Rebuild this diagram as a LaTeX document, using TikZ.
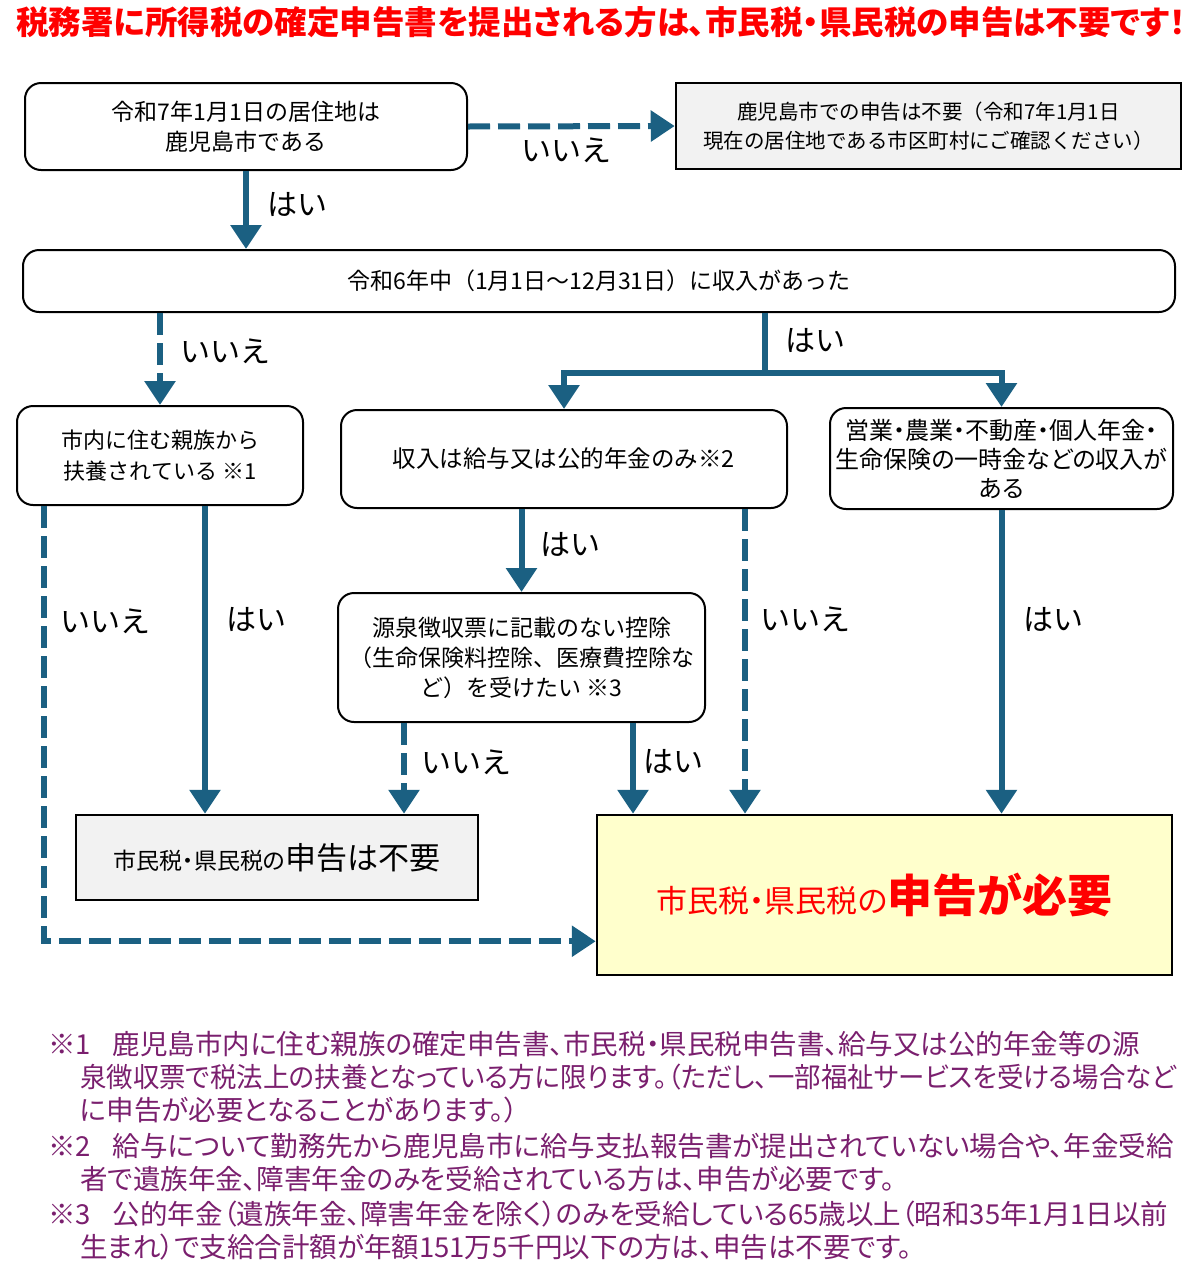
\documentclass[tikz,border=0pt]{standalone}
\usepackage{fontspec}
\setmainfont{Noto Sans CJK JP}
\newfontfamily\propfont{Noto Sans CJK JP}[RawFeature=+palt]
\usetikzlibrary{arrows.meta,calc}

\definecolor{flowblue}{RGB}{27,96,130}
\definecolor{notepurple}{RGB}{122,31,110}
\definecolor{boxgray}{RGB}{242,242,242}
\definecolor{needyellow}{RGB}{255,255,204}
\definecolor{alertred}{RGB}{255,0,0}

\tikzset{
	question/.style={draw=black, line width=2pt, rounded corners=16pt, align=center,
		inner sep=0pt, font=\fontsize{23}{30}\selectfont},
	result/.style={draw=black, line width=2.5pt, align=center, inner sep=0pt},
	yesarrow/.style={draw=flowblue, line width=6pt, -{Triangle[width=30pt,length=24pt]}},
	noarrow/.style={yesarrow, dash pattern=on 22pt off 8pt},
	answer/.style={font=\fontsize{30}{30}\selectfont},
	notetext/.style={text=notepurple, align=left, inner sep=0pt, anchor=west,
		font=\propfont\fontsize{27.5}{33}\selectfont},
}

\begin{document}
\begin{tikzpicture}
			[x=1pt,y=-1pt]
			\useasboundingbox (0,0) rectangle (1201,1275);
			% title
			\node[text=alertred, font=\propfont\bfseries\fontsize{32.5}{33}\selectfont] (title) at (601,22)
				{税務署に所得税の確定申告書を提出される方は、市民税・県民税の申告は不要です！};
			% questions
			\node[question, minimum width=442pt, minimum height=87pt] (home) at (246,126.5)
				{令和7年1月1日の居住地は\\鹿児島市である};
			\node[result, fill=boxgray, minimum width=505pt, minimum height=86pt,
				font=\fontsize{20.5}{29}\selectfont] (elsewhere) at (928.5,126)
				{鹿児島市での申告は不要（令和7年1月1日\\現在の居住地である市区町村にご確認ください）};
			\node[question, minimum width=1152pt, minimum height=62pt] (income) at (599,281)
				{令和6年中（1月1日～12月31日）に収入があった};
			\node[question, minimum width=286pt, minimum height=99pt,
				font=\fontsize{22}{31}\selectfont] (family) at (160,455.5)
				{市内に住む親族から\\扶養されている ※1};
			\node[question, minimum width=446pt, minimum height=98pt,
				font=\fontsize{23.5}{30}\selectfont] (salary) at (564,459)
				{収入は給与又は公的年金のみ※2};
			\node[question, minimum width=343pt, minimum height=101pt,
				font=\propfont\fontsize{24}{29}\selectfont] (business) at (1001.5,458.5)
				{営業・農業・不動産・個人年金・\\生命保険の一時金などの収入が\\ある};
			\node[question, minimum width=367pt, minimum height=129pt] (deduction) at (521.5,657.5)
				{源泉徴収票に記載のない控除\\（生命保険料控除、医療費控除な\\ど）を受けたい ※3};
			% results
			\node[result, fill=boxgray, minimum width=402pt, minimum height=85pt, font=\propfont]
				(notneeded) at (277,857.5)
				{\fontsize{23}{23}\selectfont 市民税・県民税の\fontsize{31}{31}\selectfont 申告は不要};
			\node[result, fill=needyellow, minimum width=575pt, minimum height=160pt,
				text=alertred, font=\propfont] (needed) at (884.5,895)
				{\fontsize{31}{31}\selectfont 市民税・県民税の\fontsize{45}{45}\selectfont\bfseries 申告が必要};
			% connectors
			\draw[noarrow] (home.east) -- (elsewhere.west);
			\draw[yesarrow] (home.south) -- (home.south |- income.north);
			\draw[noarrow] (family.north |- income.south) -- (family.north);
			\coordinate (fork) at (765,373);
			\draw[flowblue, line width=6pt] (fork |- income.south) -- (fork);
			\draw[yesarrow, {Triangle[width=30pt,length=24pt]}-{Triangle[width=30pt,length=24pt]}]
				(salary.north) |- (fork) -| (business.north);
			\coordinate (famno) at ($(family.south west)+(28,0)$);
			\coordinate (famyes) at ($(family.south)+(45,0)$);
			\coordinate (needin) at ($(needed.south west)+(0,-35)$);
			\draw[noarrow] (famno) |- (needin);
			\draw[yesarrow] (famyes) -- (famyes |- notneeded.north);
			\draw[yesarrow] (deduction.north |- salary.south) -- (deduction.north);
			\coordinate (salno) at ($(salary.south east)+(-43,0)$);
			\draw[noarrow] (salno) -- (salno |- needed.north);
			\coordinate (dedno) at ($(deduction.south west)+(67,0)$);
			\draw[noarrow] (dedno) -- (dedno |- notneeded.north);
			\coordinate (dedyes) at ($(deduction.south east)+(-73,0)$);
			\draw[yesarrow] (dedyes) -- (dedyes |- needed.north);
			\draw[yesarrow] (business.south) -- (business.south |- needed.north);
			% answers
			\node[answer] (homeno) at (566,150) {いいえ};
			\node[answer] (homeyes) at (297,204) {はい};
			\node[answer] (incomeno) at (225,351) {いいえ};
			\node[answer] (incomeyes) at (815,340) {はい};
			\node[answer] (familyno) at (105,621) {いいえ};
			\node[answer] (familyyes) at (256,619) {はい};
			\node[answer] (salaryyes) at (570,544) {はい};
			\node[answer] (salaryno) at (805,619) {いいえ};
			\node[answer] (deductionno) at (466,762) {いいえ};
			\node[answer] (deductionyes) at (673,761) {はい};
			\node[answer] (businessyes) at (1053,619) {はい};
			% notes
			\node[notetext] (note1) at (48,1077)
				{※1\hspace{0.8em}鹿児島市内に住む親族の確定申告書、市民税・県民税申告書、給与又は公的年金等の源\\
				\hspace*{32pt}\scalebox{0.96}[1]{泉徴収票で税法上の扶養となっている方に限ります。（ただし、一部福祉サービスを受ける場合など}\\
				\hspace*{32pt}に申告が必要となることがあります。）};
			\node[notetext] (note2) at (48,1163)
				{※2\hspace{0.8em}給与について勤務先から鹿児島市に給与支払報告書が提出されていない場合や、年金受給\\
				\hspace*{32pt}者で遺族年金、障害年金のみを受給されている方は、申告が必要です。};
			\node[notetext] (note3) at (48,1231)
				{※3\hspace{0.8em}公的年金（遺族年金、障害年金を除く）のみを受給している65歳以上（昭和35年1月1日以前\\
				\hspace*{32pt}生まれ）で支給合計額が年額151万5千円以下の方は、申告は不要です。};
		\end{tikzpicture}
\end{document}
